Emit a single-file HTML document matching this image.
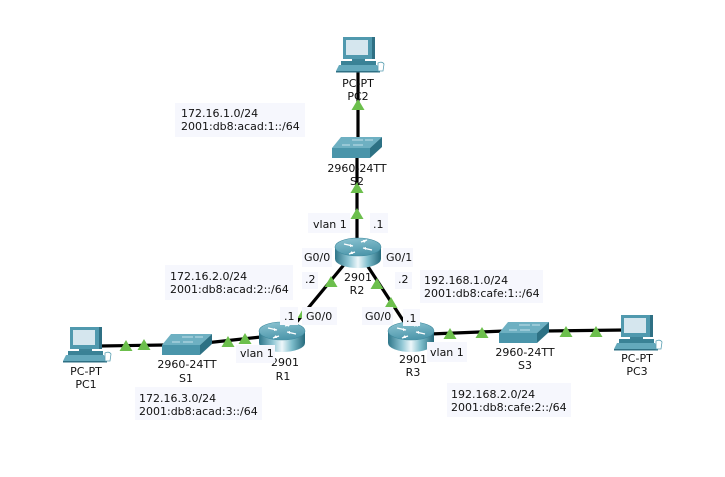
<!DOCTYPE html>
<html><head><meta charset="utf-8"><style>
html,body{margin:0;padding:0;background:#fff;}
svg{display:block;}
text{font-family:"DejaVu Sans","Liberation Sans",sans-serif;font-size:11px;fill:#111;}
</style></head><body>
<svg width="725" height="477" viewBox="0 0 725 477" xmlns="http://www.w3.org/2000/svg">
<defs>
<linearGradient id="rb" x1="0" y1="0" x2="1" y2="0">
<stop offset="0" stop-color="#2e7589"/><stop offset="0.3" stop-color="#8fc6d4"/><stop offset="0.5" stop-color="#eef7fa"/><stop offset="0.72" stop-color="#7cbccb"/><stop offset="1" stop-color="#266a7c"/>
</linearGradient>
<linearGradient id="rt" x1="0" y1="0" x2="0.3" y2="1">
<stop offset="0" stop-color="#8ec5d3"/><stop offset="1" stop-color="#4f98ac"/>
</linearGradient>
<g id="router">
<path d="M-23,0 L-23,12 A23,9 0 0,0 23,12 L23,0 Z" fill="url(#rb)"/>
<ellipse cx="0" cy="0" rx="23" ry="9" fill="url(#rt)" stroke="#3f8a9e" stroke-width="0.6"/>
<g stroke="#fff" stroke-width="1.4" fill="none">
<path d="M-14,-3 L-5,-1"/><path d="M14,3 L5,1"/><path d="M-3,5 L-9,7"/><path d="M3,-5 L9,-7"/>
</g>
<g fill="#fff">
<path d="M-5,-1 l-3,-2 l0,3z"/><path d="M5,1 l3,2 l0,-3z"/><path d="M-9,7 l3,-3 l1,3z"/><path d="M9,-7 l-3,3 l-1,-3z"/>
</g>
</g>
<g id="switch">
<polygon points="9,0 50,0 38,11 0,11" fill="#6eb0c2"/>
<polygon points="0,11 38,11 38,21 0,21" fill="#4a95aa"/>
<polygon points="38,11 50,0 50,10 38,21" fill="#2d7184"/>
<g stroke="#d8eef3" stroke-width="0.8">
<path d="M20,3 L31,3"/><path d="M33,3 L41,3"/><path d="M10,8 L18,8"/><path d="M21,8 L31,8"/>
</g>
</g>
<g id="pc">
<rect x="0" y="0" width="29" height="22" fill="#5099ae"/>
<rect x="29" y="0" width="3" height="22" fill="#2f7084"/>
<rect x="3" y="3" width="22" height="15" fill="#d5e6ee"/>
<rect x="9" y="22" width="13" height="2" fill="#3d8397"/>
<rect x="-2" y="24" width="35" height="4" fill="#3a8296"/>
<polygon points="-4,28 34,28 37,34 -7,34" fill="#64a9bc"/>
<rect x="-7" y="34" width="44" height="1.5" fill="#2f7084"/>
<path d="M35,26 q4,-2 6,1 l-1,7 l-5,0 z" fill="#fff" stroke="#5a9fb2" stroke-width="0.8"/>
</g>
<polygon id="tri" points="0,-6 6.5,5 -6.5,5" fill="#6cbf4c"/>
</defs>

<!-- links -->
<g stroke="#000" stroke-width="3.2" fill="none">
<line x1="358" y1="70" x2="358" y2="148"/>
<line x1="357" y1="155" x2="357" y2="245"/>
<line x1="352" y1="255" x2="290" y2="330"/>
<line x1="363" y1="259" x2="410" y2="331"/>
<line x1="205" y1="343" x2="270" y2="336"/>
<line x1="100" y1="346" x2="165" y2="345"/>
<line x1="430" y1="334" x2="505" y2="331"/>
<line x1="545" y1="331" x2="625" y2="330"/>
</g>

<!-- status triangles -->
<use href="#tri" x="358" y="105"/>
<use href="#tri" x="357" y="188"/>
<use href="#tri" x="357" y="214"/>
<use href="#tri" x="331" y="282"/>
<use href="#tri" x="304" y="313"/>
<use href="#tri" x="377" y="284"/>
<use href="#tri" x="391" y="303"/>
<use href="#tri" x="228" y="342"/>
<use href="#tri" x="245" y="339"/>
<use href="#tri" x="126" y="346"/>
<use href="#tri" x="144" y="345"/>
<use href="#tri" x="450" y="334"/>
<use href="#tri" x="482" y="333"/>
<use href="#tri" x="566" y="332"/>
<use href="#tri" x="596" y="332"/>

<!-- devices -->
<use href="#pc" x="343" y="37"/>
<use href="#pc" x="70" y="327"/>
<use href="#pc" x="621" y="315"/>
<use href="#switch" x="332" y="137"/>
<use href="#switch" x="162" y="334"/>
<use href="#switch" x="499" y="322"/>
<use href="#router" x="358" y="247"/>
<use href="#router" x="282" y="331"/>
<use href="#router" x="411" y="331"/>

<!-- device labels -->
<g text-anchor="middle">
<text x="358" y="87">PC-PT</text><text x="358" y="100">PC2</text>
<text x="357" y="172">2960-24TT</text><text x="357" y="185">S2</text>
<text x="358" y="281">2901</text><text x="357" y="294">R2</text>
<text x="285" y="366">2901</text><text x="283" y="380">R1</text>
<text x="187" y="368">2960-24TT</text><text x="186" y="382">S1</text>
<text x="86" y="375">PC-PT</text><text x="86" y="388">PC1</text>
<text x="413" y="363">2901</text><text x="413" y="376">R3</text>
<text x="525" y="356">2960-24TT</text><text x="525" y="369">S3</text>
<text x="637" y="362">PC-PT</text><text x="637" y="375">PC3</text>
</g>

<!-- boxed labels -->
<g fill="#f6f7fd">
<rect x="175" y="103" width="130" height="34"/>
<rect x="165" y="265" width="128" height="35"/>
<rect x="135" y="387" width="127" height="33"/>
<rect x="420" y="270" width="123" height="33"/>
<rect x="447" y="383" width="124" height="34"/>
<rect x="308" y="213" width="42" height="20"/>
<rect x="370" y="213" width="18" height="20"/>
<rect x="302" y="248" width="30" height="19"/>
<rect x="383" y="248" width="30" height="19"/>
<rect x="302" y="272" width="16" height="17"/>
<rect x="395" y="272" width="17" height="17"/>
<rect x="280" y="307" width="18" height="18"/>
<rect x="302" y="307" width="35" height="18"/>
<rect x="362" y="307" width="31" height="18"/>
<rect x="403" y="309" width="17" height="17"/>
<rect x="236" y="345" width="39" height="18"/>
<rect x="427" y="342" width="40" height="20"/>
</g>
<text x="181" y="117">172.16.1.0/24</text><text x="181" y="130">2001:db8:acad:1::/64</text>
<text x="170" y="280">172.16.2.0/24</text><text x="170" y="293">2001:db8:acad:2::/64</text>
<text x="139" y="402">172.16.3.0/24</text><text x="139" y="415">2001:db8:acad:3::/64</text>
<text x="424" y="284">192.168.1.0/24</text><text x="424" y="297">2001:db8:cafe:1::/64</text>
<text x="451" y="398">192.168.2.0/24</text><text x="451" y="411">2001:db8:cafe:2::/64</text>
<text x="313" y="228">vlan 1</text>
<text x="373" y="228">.1</text>
<text x="304" y="261">G0/0</text>
<text x="386" y="261">G0/1</text>
<text x="305" y="283">.2</text>
<text x="398" y="283">.2</text>
<text x="284" y="320">.1</text>
<text x="306" y="320">G0/0</text>
<text x="365" y="320">G0/0</text>
<text x="406" y="322">.1</text>
<text x="240" y="357">vlan 1</text>
<text x="430" y="356">vlan 1</text>
</svg>
</body></html>
